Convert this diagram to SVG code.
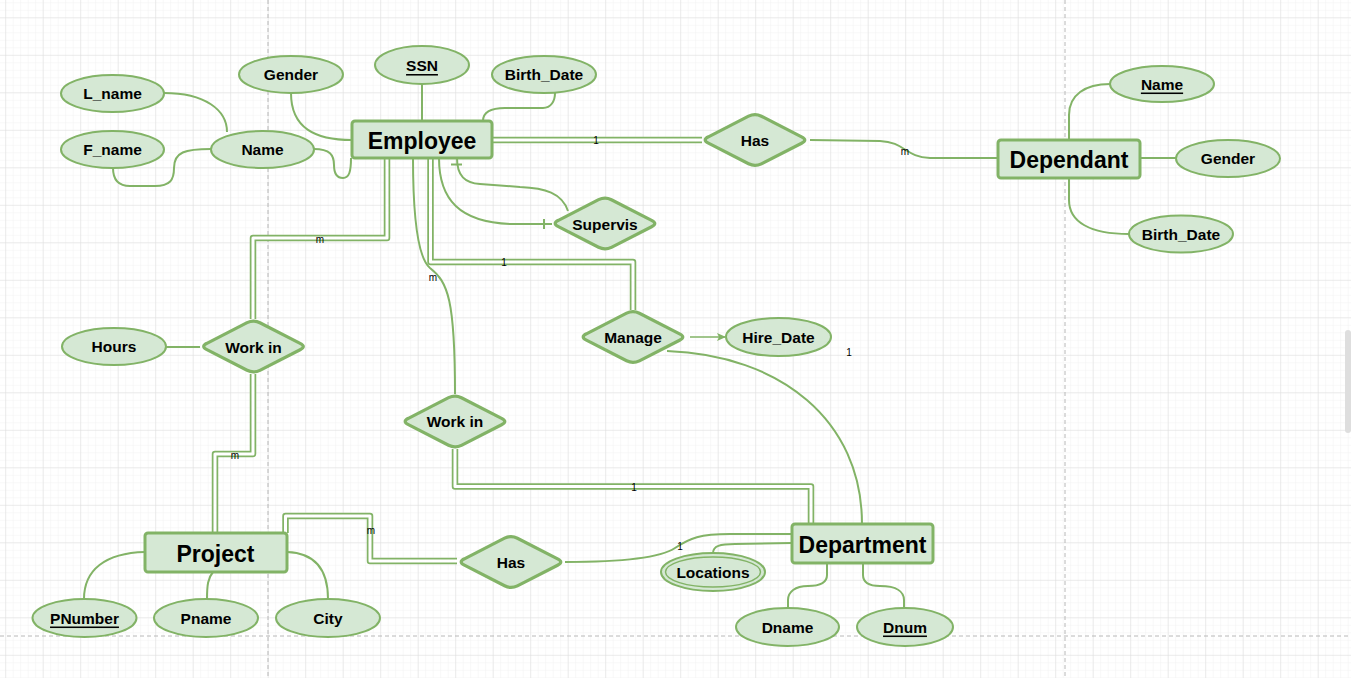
<svg xmlns="http://www.w3.org/2000/svg" xmlns:xlink="http://www.w3.org/1999/xlink" width="1351" height="678" viewBox="0 0 1351 678">
<defs>
<pattern id="minor" width="7.5" height="7.5" patternUnits="userSpaceOnUse" x="5.2" y="17.3">
<path d="M0,0 H7.5 M0,0 V7.5" fill="none" stroke="#f1f1f1" stroke-width="1"/>
</pattern>
<pattern id="major" width="37.5" height="37.5" patternUnits="userSpaceOnUse" x="5.2" y="17.3">
<path d="M0,0 H37.5 M0,0 V37.5" fill="none" stroke="#dedede" stroke-width="1"/>
</pattern>
<path id="dia" d="M-46.6,-3.2 L-6.4,-23.8 Q0,-27 6.4,-23.8 L46.6,-3.2 Q53,0 46.6,3.2 L6.4,23.8 Q0,27 -6.4,23.8 L-46.6,3.2 Q-53,0 -46.6,-3.2 Z"/>
<marker id="arr" markerWidth="10" markerHeight="10" refX="8" refY="4" orient="auto" markerUnits="userSpaceOnUse">
<path d="M0,0 L9,4 L0,8 L2,4 Z" fill="#82b366"/>
</marker>
<style>
.ent{fill:#d5e8d4;stroke:#82b366;stroke-width:3}
.att{fill:#d5e8d4;stroke:#82b366;stroke-width:2}
.rel{fill:#d5e8d4;stroke:#82b366;stroke-width:3.2}
.t{font-family:"Liberation Sans",Arial,sans-serif;font-weight:bold;font-size:15.5px;text-anchor:middle;dominant-baseline:central;fill:#000}
.te{font-family:"Liberation Sans",Arial,sans-serif;font-weight:bold;font-size:23px;text-anchor:middle;dominant-baseline:central;fill:#000}
.u{text-decoration:underline}
.lbl{font-family:"Liberation Sans",Arial,sans-serif;font-size:10px;text-anchor:middle;dominant-baseline:central;fill:#000}
.s{fill:none;stroke:#82b366;stroke-width:2}
.d1{fill:none;stroke:#82b366;stroke-width:6.5;stroke-linejoin:round}
.d2{fill:none;stroke:#ffffff;stroke-width:3;stroke-linejoin:round}
.pg{fill:none;stroke:#b8b8b8;stroke-width:1;stroke-dasharray:4 3}
</style>
</defs>
<rect width="1351" height="678" fill="#ffffff"/>
<rect width="1351" height="678" fill="url(#minor)"/>
<rect width="1351" height="678" fill="url(#major)"/>
<path class="pg" d="M268,0 V678 M1065,0 V678 M0,636 H1351"/>
<rect x="1345" y="330" width="6" height="103" rx="3" fill="#dedede"/>

<g id="connectors">
<g id="dbl-emp-has">
<path class="d1" d="M492,140 H702"/><path class="d2" d="M492,140 H702"/>
</g>
<g id="dbl-emp-workin1">
<path class="d1" d="M387,158 V238 H253 V319"/><path class="d2" d="M387,158 V238 H253 V319"/>
</g>
<g id="dbl-workin1-project">
<path class="d1" d="M253,374 V454 H215 V533"/><path class="d2" d="M253,374 V454 H215 V533"/>
</g>
<g id="dbl-emp-manage">
<path class="d1" d="M430.5,158 V262 H633 V310"/><path class="d2" d="M430.5,158 V262 H633 V310"/>
</g>
<g id="dbl-workin2-dept">
<path class="d1" d="M455,449 V486.5 H811 V524"/><path class="d2" d="M455,449 V486.5 H811 V524"/>
</g>
<g id="dbl-project-has">
<path class="d1" d="M285.5,533 V516 H370 V561 H457"/><path class="d2" d="M285.5,533 V516 H370 V561 H457"/>
</g>
<path class="s" d="M810,140 L880,141 C905,142 905,157 930,158 L998,158"/>
<path class="s" d="M1069,140 L1069,115 C1069,95 1085,84 1110,84"/>
<path class="s" d="M1140,158 H1176"/>
<path class="s" d="M1069,178 L1069,200 C1069,222 1090,234 1129,234"/>
<path class="s" d="M422,84 V121"/>
<path class="s" d="M483,121 C483,112 490,108 505,108 L543,108 C551,108 555,101 555,93"/>
<path class="s" d="M291,93 C291,128 315,140 352,140"/>
<path class="s" d="M164,93 C205,93 227,110 227,132"/>
<path class="s" d="M211,149 C185,149 174,152 174,168 C174,180 170,186 155,186 L130,186 C118,186 113,180 113,168"/>
<path class="s" d="M314,149 C330,149 334,155 334,165 C334,175 338,178 343,178 C349,178 351,172 351,158"/>
<path class="s" d="M166,347 H200"/>
<path class="s" d="M413,158 C413,220 418,258 430,268 C448,282 455,300 455,394"/>
<path class="s" d="M439,158 C439,200 460,222 510,224 L552,224"/>
<path class="s" d="M544,219 V229"/>
<path class="s" d="M568,211 C562,193 545,188 520,187 L480,184 C465,183 457,176 457,158"/>
<path class="s" d="M451,164.5 H462"/>
<path fill="none" stroke="#82b366" stroke-width="1.5" d="M690,337 H725" marker-end="url(#arr)"/>
<path class="s" d="M667,351 C780,355 862,420 862,524"/>
<path class="s" d="M565,562 C620,562 660,558 675,548 C690,538 700,534 730,534 L792,534"/>
<path class="s" d="M713,553 C713,546 720,544 735,544 L792,543"/>
<path class="s" d="M827,563 L827,575 C827,583 820,586 808,586 C795,586 788,592 788,600 L788,608"/>
<path class="s" d="M863,563 L863,575 C863,583 870,586 880,586 C897,586 904,592 904,600 L904,608"/>
<path class="s" d="M145,552 C105,553 84,570 84,599"/>
<path class="s" d="M213,572 C208,578 207,585 207,599"/>
<path class="s" d="M287,552 C315,553 328,570 328,599"/>
<text class="lbl" x="596" y="140">1</text>
<text class="lbl" x="905" y="151">m</text>
<text class="lbl" x="320" y="239">m</text>
<text class="lbl" x="235" y="455">m</text>
<text class="lbl" x="504" y="262">1</text>
<text class="lbl" x="433" y="277">m</text>
<text class="lbl" x="634" y="487">1</text>
<text class="lbl" x="371" y="530">m</text>
<text class="lbl" x="680" y="546">1</text>
<text class="lbl" x="849" y="352">1</text>
</g>

<g id="employee"><rect class="ent" x="352" y="121" width="140" height="37" rx="3"/><text class="te" x="422" y="141">Employee</text></g>
<g id="ssn"><ellipse class="att" cx="422" cy="65" rx="47" ry="19"/><text class="t u" x="422" y="65.5">SSN</text></g>
<g id="emp-birth"><ellipse class="att" cx="544" cy="74.5" rx="52" ry="18.5"/><text class="t" x="544" y="74.5">Birth_Date</text></g>
<g id="emp-gender"><ellipse class="att" cx="291" cy="74.5" rx="52" ry="18.5"/><text class="t" x="291" y="74.5">Gender</text></g>
<g id="lname"><ellipse class="att" cx="112.5" cy="93.5" rx="51.5" ry="18.5"/><text class="t" x="112.5" y="93.5">L_name</text></g>
<g id="fname"><ellipse class="att" cx="112.5" cy="149.5" rx="51.5" ry="18.5"/><text class="t" x="112.5" y="149.5">F_name</text></g>
<g id="name"><ellipse class="att" cx="262.5" cy="149.5" rx="51.5" ry="18.5"/><text class="t" x="262.5" y="149.5">Name</text></g>

<g id="has-top"><use xlink:href="#dia" class="rel" x="755" y="140"/><text class="t" x="755" y="140">Has</text></g>
<g id="dependant"><rect class="ent" x="998" y="140" width="142" height="38" rx="3"/><text class="te" x="1069" y="159.5">Dependant</text></g>
<g id="dep-name"><ellipse class="att" cx="1162" cy="84" rx="52" ry="18"/><text class="t u" x="1162" y="84">Name</text></g>
<g id="dep-gender"><ellipse class="att" cx="1228" cy="158.5" rx="52" ry="18.5"/><text class="t" x="1228" y="158.5">Gender</text></g>
<g id="dep-birth"><ellipse class="att" cx="1181" cy="234" rx="52" ry="18.5"/><text class="t" x="1181" y="234">Birth_Date</text></g>

<g id="supervis"><use xlink:href="#dia" class="rel" x="605" y="223.5"/><text class="t" x="605" y="224">Supervis</text></g>
<g id="workin1"><use xlink:href="#dia" class="rel" x="253.5" y="346.5"/><text class="t" x="253.5" y="347">Work in</text></g>
<g id="hours"><ellipse class="att" cx="114" cy="346.5" rx="52" ry="18.5"/><text class="t" x="114" y="346.5">Hours</text></g>
<g id="workin2"><use xlink:href="#dia" class="rel" x="455" y="421.5"/><text class="t" x="455" y="421.5">Work in</text></g>
<g id="manage"><use xlink:href="#dia" class="rel" x="633" y="337"/><text class="t" x="633" y="337">Manage</text></g>
<g id="hiredate"><ellipse class="att" cx="778.5" cy="337" rx="52.5" ry="19"/><text class="t" x="778.5" y="337">Hire_Date</text></g>

<g id="department"><rect class="ent" x="792" y="524" width="141" height="39" rx="3"/><text class="te" x="862.5" y="544.5">Department</text></g>
<g id="locations"><ellipse class="att" cx="713" cy="572" rx="52" ry="19"/><ellipse fill="none" stroke="#82b366" stroke-width="1.5" cx="713" cy="572" rx="47.5" ry="15"/><text class="t" x="713" y="572">Locations</text></g>
<g id="has-bottom"><use xlink:href="#dia" class="rel" x="511" y="562"/><text class="t" x="511" y="562">Has</text></g>
<g id="dname"><ellipse class="att" cx="787.5" cy="627" rx="51.5" ry="19"/><text class="t" x="787.5" y="627">Dname</text></g>
<g id="dnum"><ellipse class="att" cx="905" cy="627" rx="48" ry="19"/><text class="t u" x="905" y="627">Dnum</text></g>

<g id="project"><rect class="ent" x="145" y="533" width="142" height="39" rx="3"/><text class="te" x="215.5" y="553.5">Project</text></g>
<g id="pnumber"><ellipse class="att" cx="84.5" cy="618" rx="52" ry="19"/><text class="t u" x="84.5" y="618">PNumber</text></g>
<g id="pname"><ellipse class="att" cx="206" cy="618" rx="52" ry="19"/><text class="t" x="206" y="618">Pname</text></g>
<g id="city"><ellipse class="att" cx="328" cy="618" rx="52" ry="19"/><text class="t" x="328" y="618">City</text></g>
</svg>
